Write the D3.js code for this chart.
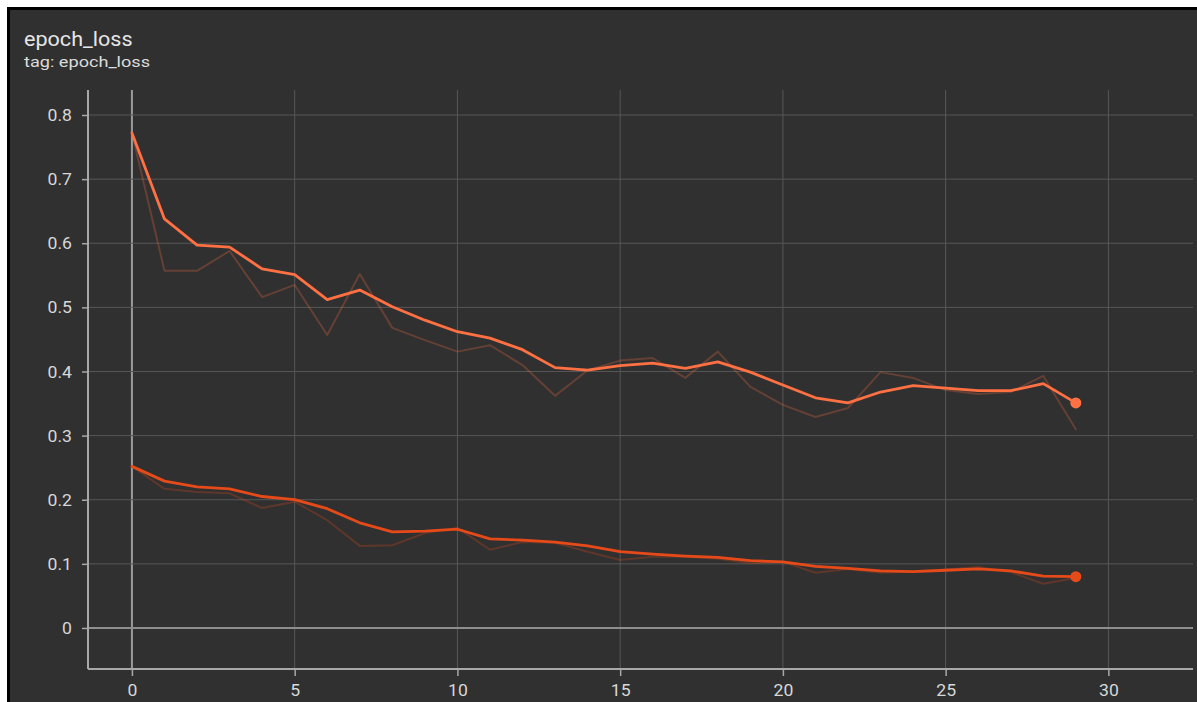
<!DOCTYPE html>
<html>
<head>
<meta charset="utf-8">
<script src="https://cdn.jsdelivr.net/npm/d3@7"></script>
<style>
  html, body { margin: 0; padding: 0; background: #ffffff; }
  svg { display: block; }
  text { font-family: Roboto, "Noto Sans", sans-serif; }
</style>
</head>
<body>
<svg id="chart" width="1197" height="702"></svg>
<script>
// Training epochs
const epochs = d3.range(0, 30);

// Run 1 (upper): raw and smoothed epoch loss
const lossARaw = [0.772,0.557,0.557,0.588,0.516,0.535,0.457,0.552,0.468,0.449,0.431,0.441,0.410,0.362,0.402,0.417,0.421,0.390,0.431,0.376,0.348,0.329,0.343,0.399,0.390,0.371,0.365,0.368,0.393,0.310];
const lossASmooth = [0.772,0.638,0.597,0.594,0.560,0.551,0.512,0.527,0.501,0.480,0.462,0.452,0.434,0.406,0.402,0.409,0.413,0.405,0.415,0.399,0.379,0.359,0.351,0.368,0.378,0.374,0.370,0.370,0.381,0.351];

// Run 2 (lower): raw and smoothed epoch loss
const lossBRaw = [0.252,0.217,0.212,0.210,0.187,0.197,0.168,0.128,0.129,0.148,0.156,0.122,0.134,0.133,0.119,0.106,0.111,0.111,0.108,0.101,0.103,0.086,0.092,0.086,0.088,0.091,0.095,0.087,0.069,0.078];
const lossBSmooth = [0.252,0.229,0.220,0.217,0.205,0.200,0.186,0.164,0.150,0.151,0.154,0.139,0.137,0.134,0.128,0.119,0.115,0.112,0.110,0.105,0.103,0.096,0.093,0.089,0.088,0.090,0.092,0.089,0.081,0.080];

const xTicks = [0, 5, 10, 15, 20, 25, 30];
const yTicks = [0, 0.1, 0.2, 0.3, 0.4, 0.5, 0.6, 0.7, 0.8];

const svg = d3.select("#chart");

// Card frame
svg.append("rect").attr("x", 7).attr("y", 7).attr("width", 1197).attr("height", 702).attr("fill", "#000");
svg.append("rect").attr("x", 10).attr("y", 10).attr("width", 1197).attr("height", 702).attr("fill", "#303030");

// Header (text is drawn slightly widened horizontally)
svg.append("text").attr("transform", "translate(24,46) scale(1.08,1)")
  .attr("fill", "#e6e6e6").attr("font-size", 20).text("epoch_loss");
svg.append("text").attr("transform", "translate(24,67) scale(1.17,1)")
  .attr("fill", "#dcdcdc").attr("font-size", 15.5).text("tag: epoch_loss");

const plot = { left: 88, right: 1193, top: 90, bottom: 669 };

const x = d3.scaleLinear().domain([-1.35, 32.6]).range([plot.left, plot.right]);
const y = d3.scaleLinear().domain([-0.064, 0.839]).range([plot.bottom, plot.top]);

// Grid
const grid = svg.append("g");
grid.selectAll(".vg").data(xTicks).join("line")
  .attr("x1", d => x(d)).attr("x2", d => x(d))
  .attr("y1", plot.top).attr("y2", plot.bottom)
  .attr("stroke", d => d === 0 ? "#9a9a9a" : "#575757")
  .attr("stroke-width", d => d === 0 ? 2 : 1);
grid.selectAll(".hg").data(yTicks).join("line")
  .attr("x1", plot.left).attr("x2", plot.right)
  .attr("y1", d => y(d)).attr("y2", d => y(d))
  .attr("stroke", d => d === 0 ? "#8e8e8e" : "#575757")
  .attr("stroke-width", d => d === 0 ? 2 : 1);

// Axes
const yAxis = d3.axisLeft(y).tickValues(yTicks).tickSize(6).tickPadding(9)
  .tickFormat(d => d === 0 ? "0" : d3.format(".1f")(d));
const xAxis = d3.axisBottom(x).tickValues(xTicks).tickSize(7).tickPadding(7)
  .tickFormat(d3.format("d"));

const gy = svg.append("g").attr("transform", `translate(${plot.left},0)`).call(yAxis);
const gx = svg.append("g").attr("transform", `translate(0,${plot.bottom})`).call(xAxis);

[gx, gy].forEach(g => {
  g.select(".domain").remove();
  g.selectAll(".tick line").attr("stroke", "#a8a8a8").attr("stroke-width", 1.5);
});

// Tick labels, widened to the same proportion as the header
gy.selectAll(".tick text").each(function() {
  d3.select(this).attr("x", null).attr("dy", "0.35em")
    .attr("transform", "translate(-16,0) scale(1.1,1)");
});
gx.selectAll(".tick text").each(function() {
  d3.select(this).attr("y", null).attr("dy", null)
    .attr("transform", "translate(0,27) scale(1.1,1)");
});
[gx, gy].forEach(g => {
  g.selectAll(".tick text").attr("fill", "#d8d8d8").attr("font-size", 16)
    .attr("font-family", "Roboto, sans-serif");
});

svg.append("line").attr("x1", plot.left).attr("x2", plot.left)
  .attr("y1", plot.top).attr("y2", plot.bottom)
  .attr("stroke", "#a8a8a8").attr("stroke-width", 2);
svg.append("line").attr("x1", plot.left).attr("x2", plot.right)
  .attr("y1", plot.bottom).attr("y2", plot.bottom)
  .attr("stroke", "#a8a8a8").attr("stroke-width", 2);

// Series
const line = d3.line().x((d, i) => x(epochs[i])).y(d => y(d));

const series = [
  { raw: lossBRaw, smooth: lossBSmooth, color: "#e64a19" },
  { raw: lossARaw, smooth: lossASmooth, color: "#ff7043" }
];

const lines = svg.append("g").attr("fill", "none")
  .attr("stroke-linejoin", "round").attr("stroke-linecap", "round");

series.forEach(s => {
  lines.append("path").datum(s.raw).attr("d", line)
    .attr("stroke", s.color).attr("stroke-opacity", 0.25).attr("stroke-width", 2);
});
series.forEach(s => {
  lines.append("path").datum(s.smooth).attr("d", line)
    .attr("stroke", s.color).attr("stroke-width", 2.8);
  const last = s.smooth.length - 1;
  svg.append("circle").attr("cx", x(epochs[last])).attr("cy", y(s.smooth[last]))
    .attr("r", 5.5).attr("fill", s.color);
});
</script>
</body>
</html>
